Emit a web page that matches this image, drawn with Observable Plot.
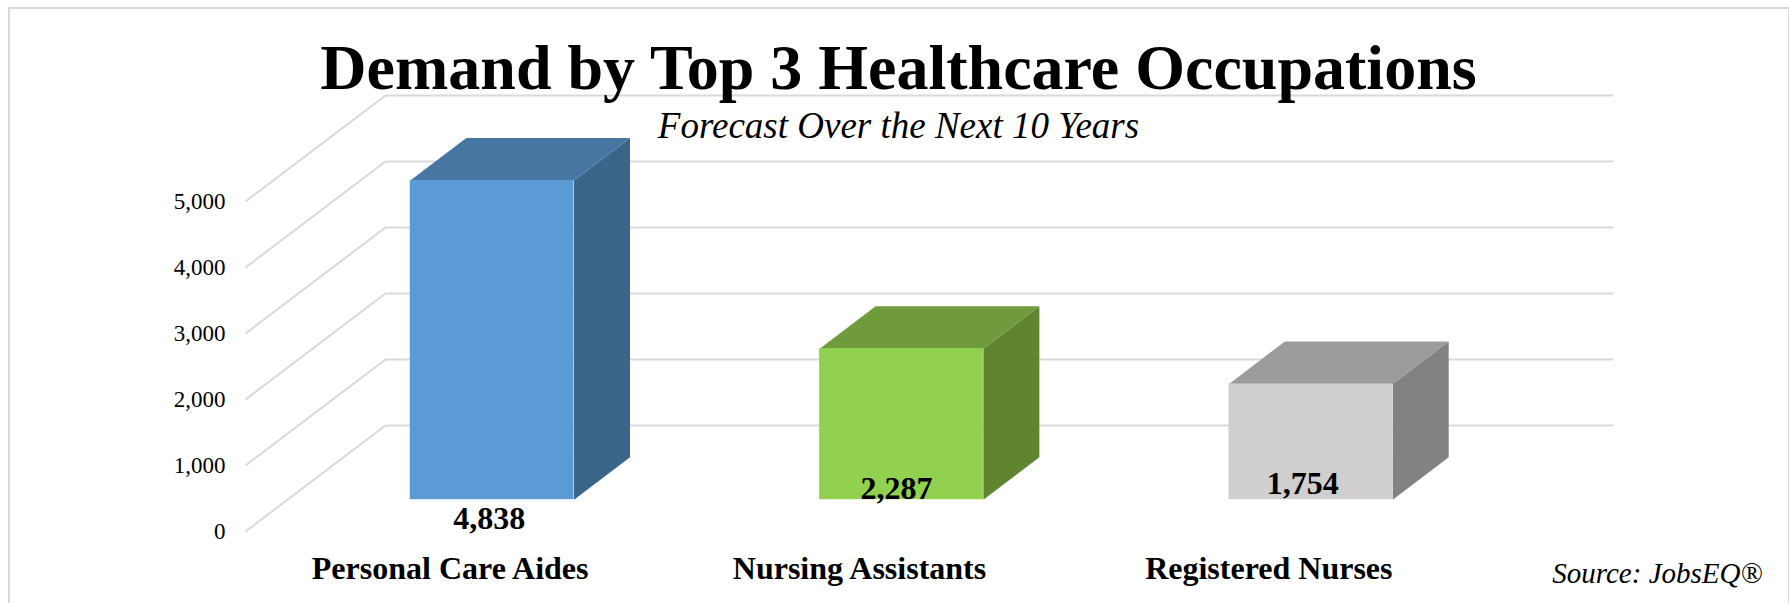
<!DOCTYPE html>
<html>
<head>
<meta charset="utf-8">
<script src="https://cdn.jsdelivr.net/npm/d3@7"></script>
<script src="https://cdn.jsdelivr.net/npm/@observablehq/plot@0.6"></script>
<style>
html,body{margin:0;padding:0;background:#fff;overflow:hidden;width:1789px;height:603px}
#frame{position:absolute;left:8px;top:7px;width:1778px;height:700px;border:2px solid #d9d9d9;box-sizing:content-box}
#chart{position:absolute;left:0;top:0}
</style>
</head>
<body>
<div id="frame"></div>
<div id="chart"></div>
<script>
const categories = ["Personal Care Aides", "Nursing Assistants", "Registered Nurses"];
const values = [4838, 2287, 1754];
const valueLabels = ["4,838", "2,287", "1,754"];
const yTicks = [0, 1000, 2000, 3000, 4000, 5000];
const frontColors = ["#5b9bd5", "#92d050", "#d0cece"];
const topColors = ["#4776a2", "#6f9b3d", "#9c9b9b"];
const sideColors = ["#3a6588", "#5f8531", "#838181"];
const titleText = "Demand by Top 3 Healthcare Occupations";
const subtitleText = "Forecast Over the Next 10 Years";
const sourceText = "Source: JobsEQ®";

// oblique projection: depth 0..1 shifts a point right and up, in data units
const shiftX = 0.342, shiftY = 1606;
const barHalf = 0.2, depthFront = 0.3, depthBack = 0.7;
const px = (c, d) => c + d * shiftX;
const py = (v, d) => v + d * shiftY;

const gridPts = yTicks.flatMap(t => [
  {t, x: -0.5, y: t},
  {t, x: px(-0.5, 1), y: py(t, 1)},
  {t, x: px(2.5, 1), y: py(t, 1)}
]);
const bars = categories.map((name, i) => ({
  i, value: values[i],
  x1: px(i - barHalf, depthFront), x2: px(i + barHalf, depthFront),
  y1: py(0, depthFront), y2: py(values[i], depthFront),
  front: frontColors[i]
}));
const polys = [];
categories.forEach((name, i) => {
  const v = values[i], L = i - barHalf, R = i + barHalf;
  const add = (color, pts) => pts.forEach(([c, val, d]) =>
    polys.push({face: color + i, color, x: px(c, d), y: py(val, d)}));
  add(sideColors[i], [[R, 0, depthFront], [R, 0, depthBack], [R, v, depthBack], [R, v, depthFront]]);
  add(topColors[i], [[L, v, depthFront], [L, v, depthBack], [R, v, depthBack], [R, v, depthFront]]);
});

const labelOffsets = [[-3, 19], [-5, -11], [-8, -16]];
const serif = "Liberation Serif";

const plot = Plot.plot({
  width: 1789, height: 603,
  marginLeft: 245, marginRight: 176, marginTop: 95, marginBottom: 72,
  x: {domain: [-0.5, px(2.5, 1)], axis: null},
  y: {domain: [0, py(5000, 1)], axis: null},
  color: {type: "identity"},
  style: {fontFamily: serif, color: "#000", background: "transparent", overflow: "visible"},
  marks: [
    Plot.line(gridPts, {x: "x", y: "y", z: "t", stroke: "#d9d9d9", strokeWidth: 2, strokeLinecap: "butt", strokeLinejoin: "miter"}),
    Plot.line(polys, {x: "x", y: "y", z: "face", fill: "color", stroke: "none"}),
    Plot.rect(bars, {x1: "x1", x2: "x2", y1: "y1", y2: "y2", fill: "front"}),
    Plot.axisY({ticks: yTicks, tickFormat: d3.format(","), tickSize: 0, tickPadding: 20, fontSize: 23, label: null, anchor: "left"}),
    Plot.axisX({ticks: [0, 1, 2], tickFormat: i => categories[i], tickSize: 0, tickPadding: 25, fontSize: 32, fontWeight: "bold", label: null, anchor: "bottom"}),
    ...bars.map((b, k) => Plot.text([valueLabels[k]], {
      text: d => d,
      x: () => (b.x1 + b.x2) / 2, y: () => b.y1,
      dx: labelOffsets[k][0], dy: labelOffsets[k][1],
      fontSize: 32, fontWeight: "bold", fill: "#000"
    })),
    Plot.text([titleText], {text: d => d, frameAnchor: "top", dx: -31, dy: -7, lineAnchor: "bottom", fontSize: 64, fontWeight: "bold", fill: "#000"}),
    Plot.text([subtitleText], {text: d => d, frameAnchor: "top", dx: -31, dy: 42, lineAnchor: "bottom", fontSize: 37, fontStyle: "italic", fill: "#000"}),
    Plot.text([sourceText], {text: d => d, frameAnchor: "bottom-right", dx: 149, dy: 51, lineAnchor: "bottom", textAnchor: "end", fontSize: 29, fontStyle: "italic", fill: "#000"})
  ]
});
document.getElementById("chart").appendChild(plot);
</script>
</body>
</html>
